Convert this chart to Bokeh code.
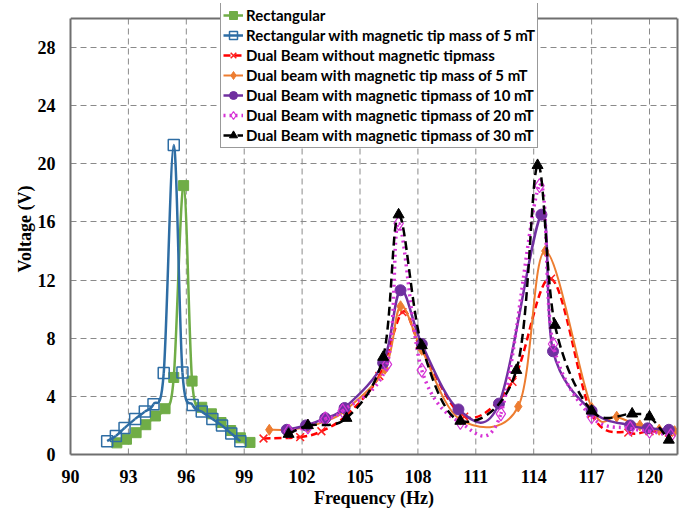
from bokeh.plotting import figure
from bokeh.models import (Range1d, FixedTicker, Legend, LegendItem, ColumnDataSource,
                          LinearAxis, Span)
from bokeh.embed import file_html
from bokeh.resources import INLINE

# ---------------- data ----------------
x_ticks = [90, 93, 96, 99, 102, 105, 108, 111, 114, 117, 120]
y_ticks = [0, 4, 8, 12, 16, 20, 24, 28]
y_max = 30

rect_f = [92.4, 92.9, 93.4, 93.9, 94.4, 94.9, 95.35, 95.86, 96.3, 96.8, 97.3, 97.8, 98.3, 98.8, 99.3]
rect_v = [0.8, 1.05, 1.5, 2.05, 2.65, 3.15, 5.3, 18.5, 5.05, 3.25, 2.8, 2.2, 1.65, 1.15, 0.83]

rect5_f = [91.9, 92.35, 92.8, 93.35, 93.85, 94.3, 94.83, 95.35, 95.8, 96.33, 96.8, 97.35, 97.85, 98.33, 98.8]
rect5_v = [0.92, 1.28, 1.82, 2.45, 2.95, 3.46, 5.6, 21.3, 5.65, 3.4, 2.95, 2.45, 2.0, 1.44, 0.92]

db0_f = [100.0, 101.9, 103.0, 104.3, 106.0, 107.2, 108.1, 110.4, 112.9, 114.9, 117.0, 118.9, 120.0, 121.0]
db0_v = [1.1, 1.2, 1.6, 2.7, 5.4, 9.8, 7.6, 2.6, 5.0, 12.1, 2.8, 1.5, 1.6, 1.5]

db5_f = [100.3, 101.3, 102.3, 103.2, 104.2, 106.3, 107.1, 108.2, 110.2, 113.2, 114.6, 117.0, 118.3, 119.5, 120.5, 121.3]
db5_v = [1.7, 1.7, 1.9, 2.3, 3.0, 5.9, 10.2, 7.2, 2.4, 3.3, 14.0, 3.2, 2.6, 2.0, 1.7, 1.6]

db10_f = [101.2, 102.2, 103.2, 104.2, 106.2, 107.1, 108.2, 110.1, 112.2, 114.4, 115.0, 117.0, 119.0, 119.9, 121.0]
db10_v = [1.7, 2.0, 2.5, 3.2, 6.3, 11.3, 7.6, 3.1, 3.5, 16.5, 7.1, 3.0, 2.0, 1.8, 1.7]

db20_f = [101.3, 102.3, 103.2, 104.1, 106.4, 107.0, 108.2, 110.2, 112.3, 114.3, 115.0, 117.0, 119.0, 120.0, 121.1]
db20_v = [1.6, 1.9, 2.45, 3.0, 6.2, 15.9, 5.8, 2.2, 2.8, 18.5, 7.6, 2.6, 1.8, 1.6, 1.3]

db30_f = [101.3, 102.3, 104.3, 106.2, 107.0, 108.2, 110.2, 113.1, 114.2, 115.1, 117.0, 119.1, 120.0, 121.0]
db30_v = [1.4, 2.0, 2.5, 6.7, 16.5, 7.5, 2.3, 5.8, 19.9, 8.9, 3.0, 2.8, 2.6, 1.0]

labels = [
    "Rectangular",
    "Rectangular with magnetic tip mass of 5 mT",
    "Dual Beam without magnetic tipmass",
    "Dual beam with magnetic tip mass of 5 mT",
    "Dual Beam with magnetic tipmass of 10 mT",
    "Dual Beam with magnetic tipmass of 20 mT",
    "Dual Beam with magnetic tipmass of 30 mT",
]


def smooth_segments(xs, ys):
    """Bezier control points (Excel-like smoothing) through the data points."""
    n = len(xs)
    d = dict(x0=[], y0=[], x1=[], y1=[], cx0=[], cy0=[], cx1=[], cy1=[])
    for i in range(n - 1):
        xp, yp = (xs[i - 1], ys[i - 1]) if i > 0 else (xs[i], ys[i])
        xn, yn = (xs[i + 2], ys[i + 2]) if i + 2 < n else (xs[i + 1], ys[i + 1])
        d["x0"].append(xs[i]); d["y0"].append(ys[i])
        d["x1"].append(xs[i + 1]); d["y1"].append(ys[i + 1])
        d["cx0"].append(xs[i] + (xs[i + 1] - xp) / 6.0)
        d["cy0"].append(ys[i] + (ys[i + 1] - yp) / 6.0)
        d["cx1"].append(xs[i + 1] - (xn - xs[i]) / 6.0)
        d["cy1"].append(ys[i + 1] - (yn - ys[i]) / 6.0)
    return ColumnDataSource(d)


# frame extends a little above y_max so the legend (which pokes above the box) is not clipped
p = figure(width=679, height=510,
           x_range=Range1d(90, 121.45), y_range=Range1d(0, 31.03),
           output_backend="svg", toolbar_location=None,
           min_border_left=70, min_border_right=2,
           min_border_top=3, min_border_bottom=55,
           background_fill_color="white", border_fill_color="white")

p.outline_line_color = None
FRAME = "#6f6f6f"

xax = p.below[0]
yax = p.left[0]
for ax in (xax, yax):
    ax.axis_line_color = FRAME
    ax.axis_line_width = 2
    ax.major_tick_line_color = None
    ax.minor_tick_line_color = None
    ax.major_label_text_font = "Liberation Serif"
    ax.major_label_text_font_style = "bold"
    ax.major_label_text_font_size = "18px"
    ax.major_label_text_color = "black"
    ax.axis_label_text_font = "Liberation Serif"
    ax.axis_label_text_font_style = "bold"
    ax.axis_label_text_font_size = "18px"
    ax.axis_label_text_color = "black"

xax.ticker = FixedTicker(ticks=x_ticks)
yax.ticker = FixedTicker(ticks=y_ticks)
yax.bounds = (0, y_max)
xax.axis_label = "Frequency (Hz)"
yax.axis_label = "Voltage (V)"
xax.major_label_standoff = 9
xax.axis_label_standoff = 2
yax.major_label_standoff = 9
yax.axis_label_standoff = 0

# right edge of the box
right_ax = LinearAxis(ticker=FixedTicker(ticks=[]), bounds=(0, y_max),
                      axis_line_color=FRAME, axis_line_width=2,
                      major_tick_line_color=None, minor_tick_line_color=None,
                      major_label_standoff=0)
p.add_layout(right_ax, "right")

# horizontal grid
p.ygrid.ticker = FixedTicker(ticks=y_ticks)
p.ygrid.grid_line_color = "#8a8a8a"
p.ygrid.grid_line_dash = "6 4"
p.ygrid.grid_line_width = 1
# vertical grid, limited to the box height
p.xgrid.visible = False
p.segment(x0=x_ticks[1:], y0=[0] * (len(x_ticks) - 1), x1=x_ticks[1:], y1=[y_max] * (len(x_ticks) - 1),
          line_color="#8a8a8a", line_dash="6 4", line_width=1, level="underlay")

# top edge of the box
p.add_layout(Span(location=y_max, dimension="width", line_color=FRAME, line_width=2))

series = [
    (rect_f, rect_v, dict(color="#70ad47", dash="solid", lw=2.5), dict(marker="square", size=10, fill="#70ad47", line="#70ad47", mlw=1)),
    (rect5_f, rect5_v, dict(color="#2e6da4", dash="solid", lw=2.5), dict(marker="square", size=11, fill=None, line="#2e6da4", mlw=1.5)),
    (db0_f, db0_v, dict(color="#ff0000", dash="7 4", lw=2.5), dict(marker="x", size=11, fill=None, line="#ff2020", mlw=1.5)),
    (db5_f, db5_v, dict(color="#ed7d31", dash="solid", lw=2), dict(marker="diamond", size=11, fill="#ed7d31", line="#ed7d31", mlw=1)),
    (db10_f, db10_v, dict(color="#7030a0", dash="solid", lw=2.5), dict(marker="circle", size=11, fill="#7030a0", line="#7030a0", mlw=1)),
    (db20_f, db20_v, dict(color="#d633d6", dash="2 4", lw=3.5), dict(marker="diamond", size=14, fill=None, line="#d633d6", mlw=1.2)),
    (db30_f, db30_v, dict(color="black", dash="9 5", lw=2.5), dict(marker="triangle", size=11, fill="black", line="black", mlw=1)),
]

items = []
for (xs, ys, ls, ms), label in zip(series, labels):
    src = smooth_segments(xs, ys)
    r_line = p.bezier(x0="x0", y0="y0", x1="x1", y1="y1", cx0="cx0", cy0="cy0",
                      cx1="cx1", cy1="cy1", source=src,
                      line_color=ls["color"], line_width=ls["lw"], line_dash=ls["dash"])
    r_pts = p.scatter(xs, ys, marker=ms["marker"], size=ms["size"],
                      fill_color=ms["fill"], line_color=ms["line"], line_width=ms["mlw"])
    items.append(LegendItem(label=label, renderers=[r_line, r_pts]))

legend = Legend(items=items, location=(150, 306),
                label_text_font="Lato", label_text_font_style="bold",
                label_text_font_size="15px", label_text_color="black",
                glyph_width=20, glyph_height=20, label_height=20,
                label_standoff=3, spacing=0, padding=2, margin=0,
                border_line_color="#333333", border_line_width=1,
                background_fill_color="white", background_fill_alpha=1.0)
p.add_layout(legend, "center")

open("out.html", "w").write(file_html(p, INLINE))
